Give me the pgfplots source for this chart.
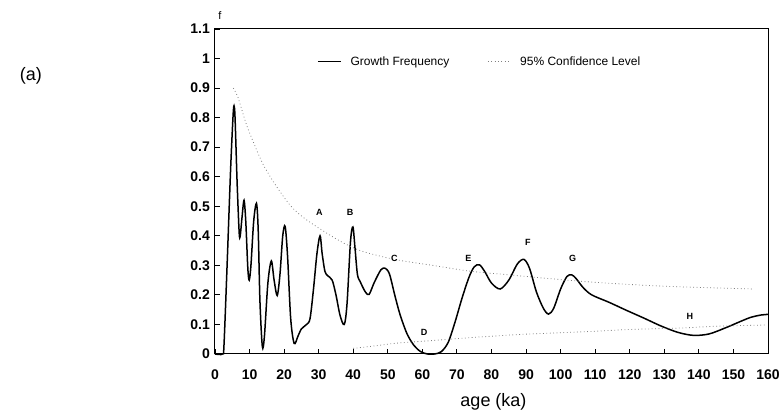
\documentclass[border=0pt]{standalone}
\usepackage{fontspec}
\setmainfont{Liberation Sans}
\usepackage{pgfplots}
\pgfplotsset{compat=1.18}
\begin{document}
\begin{tikzpicture}
\pgfplotsset{every axis y label/.style={at={(axis description cs:0,1)},anchor=center,xshift=5pt,yshift=13pt}}
\begin{axis}[
  scale only axis, width=553pt, height=325pt,
  xmin=0, xmax=160, ymin=0, ymax=1.1,
  xtick={0,10,...,160},
  ytick={0,0.1,0.2,0.3,0.4,0.5,0.6,0.7,0.8,0.9,1,1.1},
  yticklabels={0,0.1,0.2,0.3,0.4,0.5,0.6,0.7,0.8,0.9,1,1.1},
  tick align=inside, tick pos=left, major tick length=5pt,
  axis line style={line width=1pt},
  every tick/.style={line width=0.9pt, black},
  /pgf/number format/assume math mode=true,
  ticklabel style={font=\fontsize{14}{16}\selectfont\bfseries},
  yticklabel style={anchor=east, inner sep=0pt, xshift=-5pt},
  xticklabel style={anchor=center, yshift=-21pt},
  xlabel={age (ka)},
  xlabel style={at={(axis description cs:0.5,0)}, anchor=center, xshift=2pt, yshift=-48pt, font=\fontsize{18}{20}\selectfont},
  ylabel={f},
  ylabel style={font=\fontsize{11}{13}\selectfont},
  clip=false,
  legend columns=2,
  legend image code/.code={\draw[#1] (0pt,0pt) -- (23pt,0pt);},
  legend style={at={(axis cs:29.5,0.99)}, anchor=west, draw=none, fill=none,
    inner xsep=0pt, inner ysep=0pt, nodes={inner sep=0pt},
    font=\fontsize{12}{14}\selectfont,
    /tikz/every odd column/.append style={column sep=9pt},
    /tikz/every even column/.append style={column sep=38pt}},
]
\addplot[black, line width=1.5pt, smooth, tension=0.5] coordinates {
(0,0) (2.2,0) (2.6,0.03) (3.5,0.3) (4.5,0.62) (5.2,0.8) (5.5,0.84) (5.8,0.8)
(6.4,0.58) (7.0,0.41) (7.3,0.40) (7.8,0.46) (8.4,0.52) (8.9,0.45) (9.5,0.29)
(9.9,0.25) (10.4,0.30) (11.2,0.45) (12.0,0.51) (12.5,0.42) (13.0,0.18)
(13.7,0.025) (14.3,0.06) (15.3,0.24) (16.3,0.315) (17.1,0.25) (18.0,0.198)
(18.8,0.27) (19.6,0.40) (20.3,0.432) (21.0,0.33) (21.9,0.12) (22.9,0.036)
(24.0,0.06) (25.0,0.085) (26.5,0.1) (27.5,0.12) (28.5,0.22) (29.5,0.34)
(30.4,0.40) (31.0,0.34) (31.8,0.28) (32.6,0.265) (33.9,0.25) (35.0,0.20)
(36.2,0.13) (37.4,0.10) (38.2,0.17) (39.2,0.38) (39.9,0.43) (40.5,0.36)
(41.2,0.27) (42.0,0.245) (43.5,0.21) (44.6,0.202) (46.0,0.24) (48.0,0.285)
(49.3,0.29) (50.5,0.27) (52.0,0.20) (53.5,0.135) (55.5,0.07) (57.5,0.03)
(59.5,0.008) (61.5,0.0) (63.5,0.0) (65.5,0.008) (67.5,0.04) (69.5,0.11)
(71.5,0.19) (73.5,0.26) (75.0,0.295) (76.5,0.302) (78.0,0.28) (80.0,0.24)
(82.5,0.22) (85.0,0.25) (87.5,0.305) (89.4,0.32) (91.0,0.29) (93.0,0.21)
(95.0,0.155) (96.5,0.135) (98.0,0.155) (100.0,0.22) (101.8,0.262)
(103.2,0.268) (104.5,0.255) (106.5,0.225) (109.0,0.20) (114.0,0.175)
(119.0,0.148) (124.0,0.122) (129.0,0.095) (134.0,0.073) (138.5,0.063)
(143.0,0.068) (148.0,0.09) (152.0,0.11) (155.0,0.124) (158.0,0.132) (160.0,0.134)
};
\addlegendentry{Growth Frequency}
\addplot[gray, line width=0.8pt, dash pattern=on 0.8pt off 2.6pt, smooth] coordinates {
(5.3,0.9) (6.7,0.867) (9,0.78) (11,0.72) (14,0.64) (17.8,0.567) (22,0.5)
(26.5,0.454) (35,0.39) (42,0.35) (52,0.32) (63,0.30) (74,0.28) (85,0.268)
(95,0.257) (107,0.245) (119,0.236) (133,0.228) (156,0.22)
};
\addlegendentry{95\% Confidence Level}
\addplot[gray, line width=0.8pt, dash pattern=on 0.8pt off 2.6pt, smooth, forget plot] coordinates {
(40,0.019) (46,0.027) (52,0.036) (60,0.043) (68,0.05) (76,0.057) (88,0.066)
(100,0.072) (110,0.077) (120,0.083) (135,0.088) (145,0.094) (159,0.098)
};
\begin{scope}[every node/.style={font=\fontsize{9}{10}\selectfont\bfseries}]
\node at (axis cs:30.2,0.48) {A};
\node at (axis cs:39.1,0.48) {B};
\node at (axis cs:51.9,0.325) {C};
\node at (axis cs:60.5,0.072) {D};
\node at (axis cs:73.3,0.324) {E};
\node at (axis cs:90.5,0.377) {F};
\node at (axis cs:103.5,0.324) {G};
\node at (axis cs:137.4,0.126) {H};
\end{scope}
\coordinate (O) at (axis cs:0,0);
\coordinate (T) at (axis cs:160,1.1);
\node[font=\fontsize{18}{20}\selectfont, anchor=center] at ([xshift=-184pt,yshift=278pt]O) {(a)};
\end{axis}
\pgfresetboundingbox
\path ([xshift=-215pt,yshift=-65pt]O) rectangle ([xshift=16pt,yshift=29pt]T);
\end{tikzpicture}
\end{document}
